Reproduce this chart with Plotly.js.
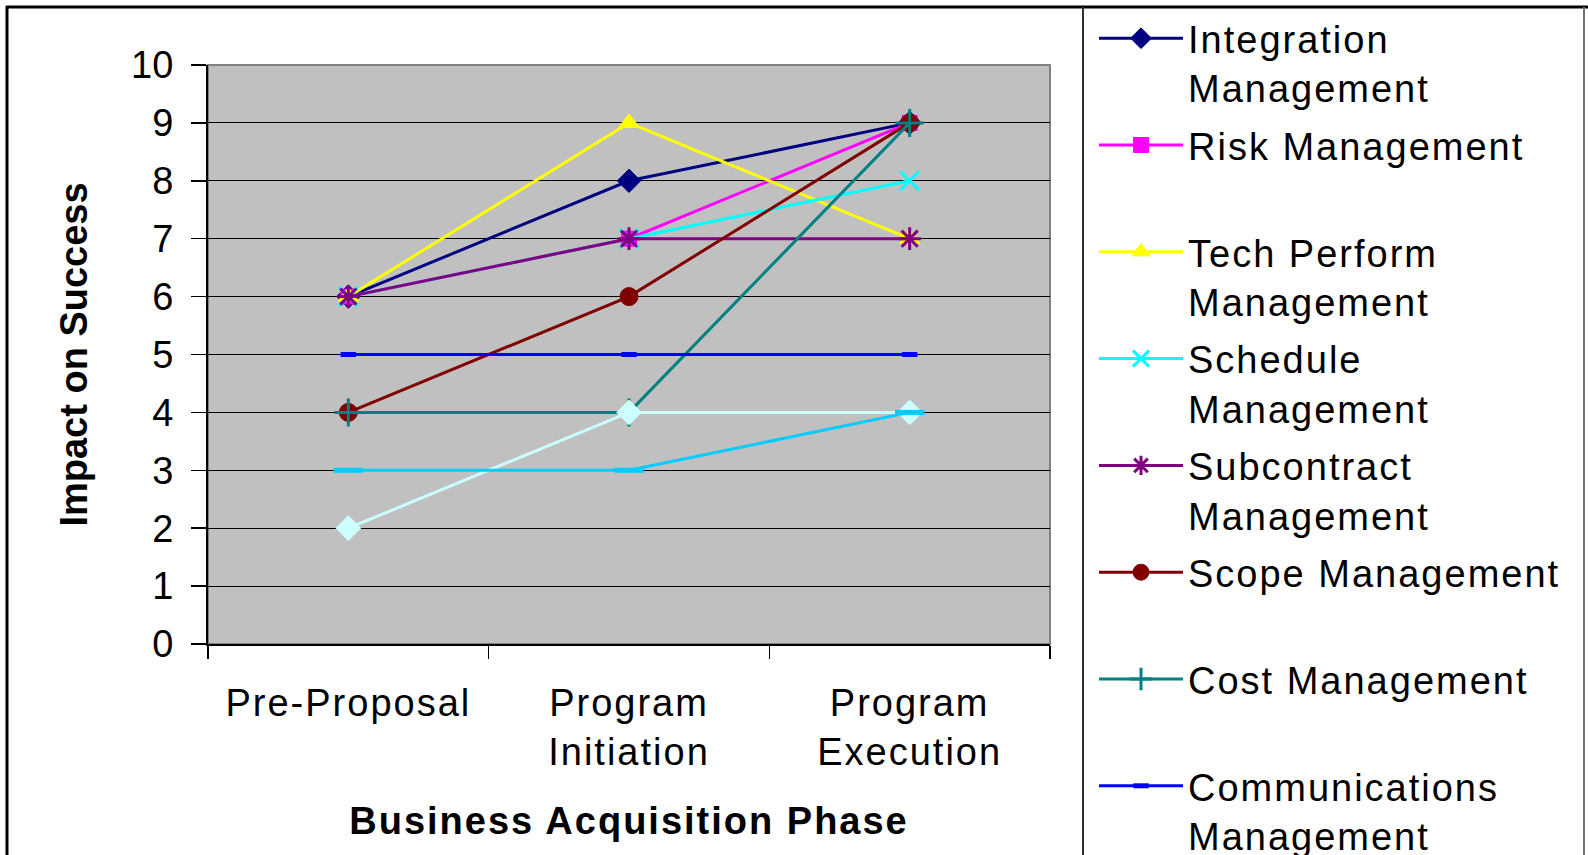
<!DOCTYPE html>
<html>
<head>
<meta charset="utf-8">
<script src="https://cdn.plot.ly/plotly-3.0.1.min.js"></script>
<style>
  html, body { margin: 0; padding: 0; background: #ffffff; }
  #chart { width: 1588px; height: 855px; }
  .legendtext, .xtick text, .xtitle { letter-spacing: 2px; }
</style>
</head>
<body>
<div id="chart"></div>
<script>
// ---- data ----
var phases = ["Pre-Proposal", "Program<br>Initiation", "Program<br>Execution"];

var seriesNames = [
  "Integration<br>Management",
  "Risk Management<br>\u00a0",
  "Tech Perform<br>Management",
  "Schedule<br>Management",
  "Subcontract<br>Management",
  "Scope Management<br>\u00a0",
  "Cost Management<br>\u00a0",
  "Communications<br>Management",
  "Quality Management",
  "Human Resource Management"
];

var integration    = [6, 8, 9];
var risk           = [6, 7, 9];
var techPerform    = [6, 9, 7];
var schedule       = [6, 7, 8];
var subcontract    = [6, 7, 7];
var scope          = [4, 6, 9];
var cost           = [4, 4, 9];
var communications = [5, 5, 5];
var quality        = [2, 4, 4];
var humanResource  = [3, 3, 4];

var seriesValues = [integration, risk, techPerform, schedule, subcontract,
                    scope, cost, communications, quality, humanResource];

var colors  = ["#000080", "#FF00FF", "#FFFF00", "#00FFFF", "#800080",
               "#800000", "#008080", "#0000FF", "#CCFFFF", "#00CCFF"];
var symbols = ["diamond", "square", "triangle-up", "x-thin-open", "asterisk-open",
               "circle", "cross-thin-open", "line-ew-open", "diamond", "line-ew-open"];
var sizes   = [18, 15, 18, 19, 19, 18, 20, 11, 19, 21];
var mlw     = [1, 1, 1, 3, 3, 1, 3, 5, 1, 5];
var inLegend = [true, true, true, true, true, true, true, true, false, false];

var traces = seriesValues.map(function (vals, i) {
  return {
    type: "scatter",
    mode: "lines+markers",
    name: seriesNames[i],
    legendgroup: "g" + i,
    x: phases,
    y: vals,
    showlegend: inLegend[i],
    line: { color: colors[i], width: 3 },
    marker: {
      symbol: symbols[i],
      size: sizes[i],
      color: colors[i],
      line: { color: colors[i], width: mlw[i] }
    }
  };
});

// pixel -> paper helpers for decorative frame
var L = 208, R = 1050, T = 65, B = 644;
function px(x) { return (x - L) / (R - L); }
function py(y) { return (B - y) / (B - T); }

var fontFam = "Liberation Sans, Arial, sans-serif";

var layout = {
  width: 1588,
  height: 855,
  margin: { l: L, r: 1588 - R, t: T, b: 855 - B, autoexpand: false },
  paper_bgcolor: "#ffffff",
  plot_bgcolor: "#C0C0C0",
  font: { family: fontFam, size: 38, color: "#000000" },
  showlegend: true,
  legend: {
    x: px(1094), xanchor: "left",
    y: py(7), yanchor: "top",
    bgcolor: "rgba(0,0,0,0)",
    borderwidth: 0,
    valign: "top",
    itemwidth: 84,
    maxheight: 2000,
    font: { family: fontFam, size: 38, color: "#000000" },
    tracegroupgap: 5
  },
  xaxis: {
    type: "category",
    categoryorder: "array",
    categoryarray: phases,
    range: [-0.5, 2.5],
    tickson: "boundaries",
    ticks: "outside",
    ticklen: 13,
    tickwidth: 1.5,
    tickcolor: "#000000",
    showgrid: false,
    showline: true,
    linecolor: "#000000",
    linewidth: 2,
    zeroline: false,
    ticklabelstandoff: 24,
    tickfont: { family: fontFam, size: 38, color: "#000000" },
    title: {
      text: "<b>Business Acquisition Phase</b>",
      font: { family: fontFam, size: 38, color: "#000000" },
      standoff: 35
    },
    fixedrange: true
  },
  yaxis: {
    range: [0, 10],
    dtick: 1,
    tick0: 0,
    ticks: "outside",
    ticklen: 15,
    tickwidth: 1.5,
    tickcolor: "#000000",
    showgrid: true,
    gridcolor: "#000000",
    gridwidth: 1,
    showline: true,
    linecolor: "#000000",
    linewidth: 2,
    zeroline: false,
    ticklabelstandoff: 10,
    tickfont: { family: fontFam, size: 38, color: "#000000" },
    title: {
      text: "<b>Impact on Success</b>",
      font: { family: fontFam, size: 38, color: "#000000" },
      standoff: 32
    },
    fixedrange: true
  },
  shapes: [
    // plot area border
    { type: "rect", xref: "paper", yref: "paper", x0: 0, x1: 1, y0: 0, y1: 1,
      line: { color: "#808080", width: 2 }, layer: "below" },
    // outer chart frame (top, left, right)
    { type: "line", xref: "paper", yref: "paper", x0: px(6), x1: px(1588), y0: py(7), y1: py(7),
      line: { color: "#000000", width: 3 } },
    { type: "line", xref: "paper", yref: "paper", x0: px(7), x1: px(7), y0: py(6), y1: py(855),
      line: { color: "#000000", width: 3 } },
    { type: "line", xref: "paper", yref: "paper", x0: px(1584), x1: px(1584), y0: py(7), y1: py(855),
      line: { color: "#707070", width: 2 } },
    // legend box divider
    { type: "line", xref: "paper", yref: "paper", x0: px(1083), x1: px(1083), y0: py(7), y1: py(855),
      line: { color: "#303030", width: 2 } }
  ]
};

Plotly.newPlot("chart", traces, layout, { displayModeBar: false, staticPlot: true });
</script>
</body>
</html>
